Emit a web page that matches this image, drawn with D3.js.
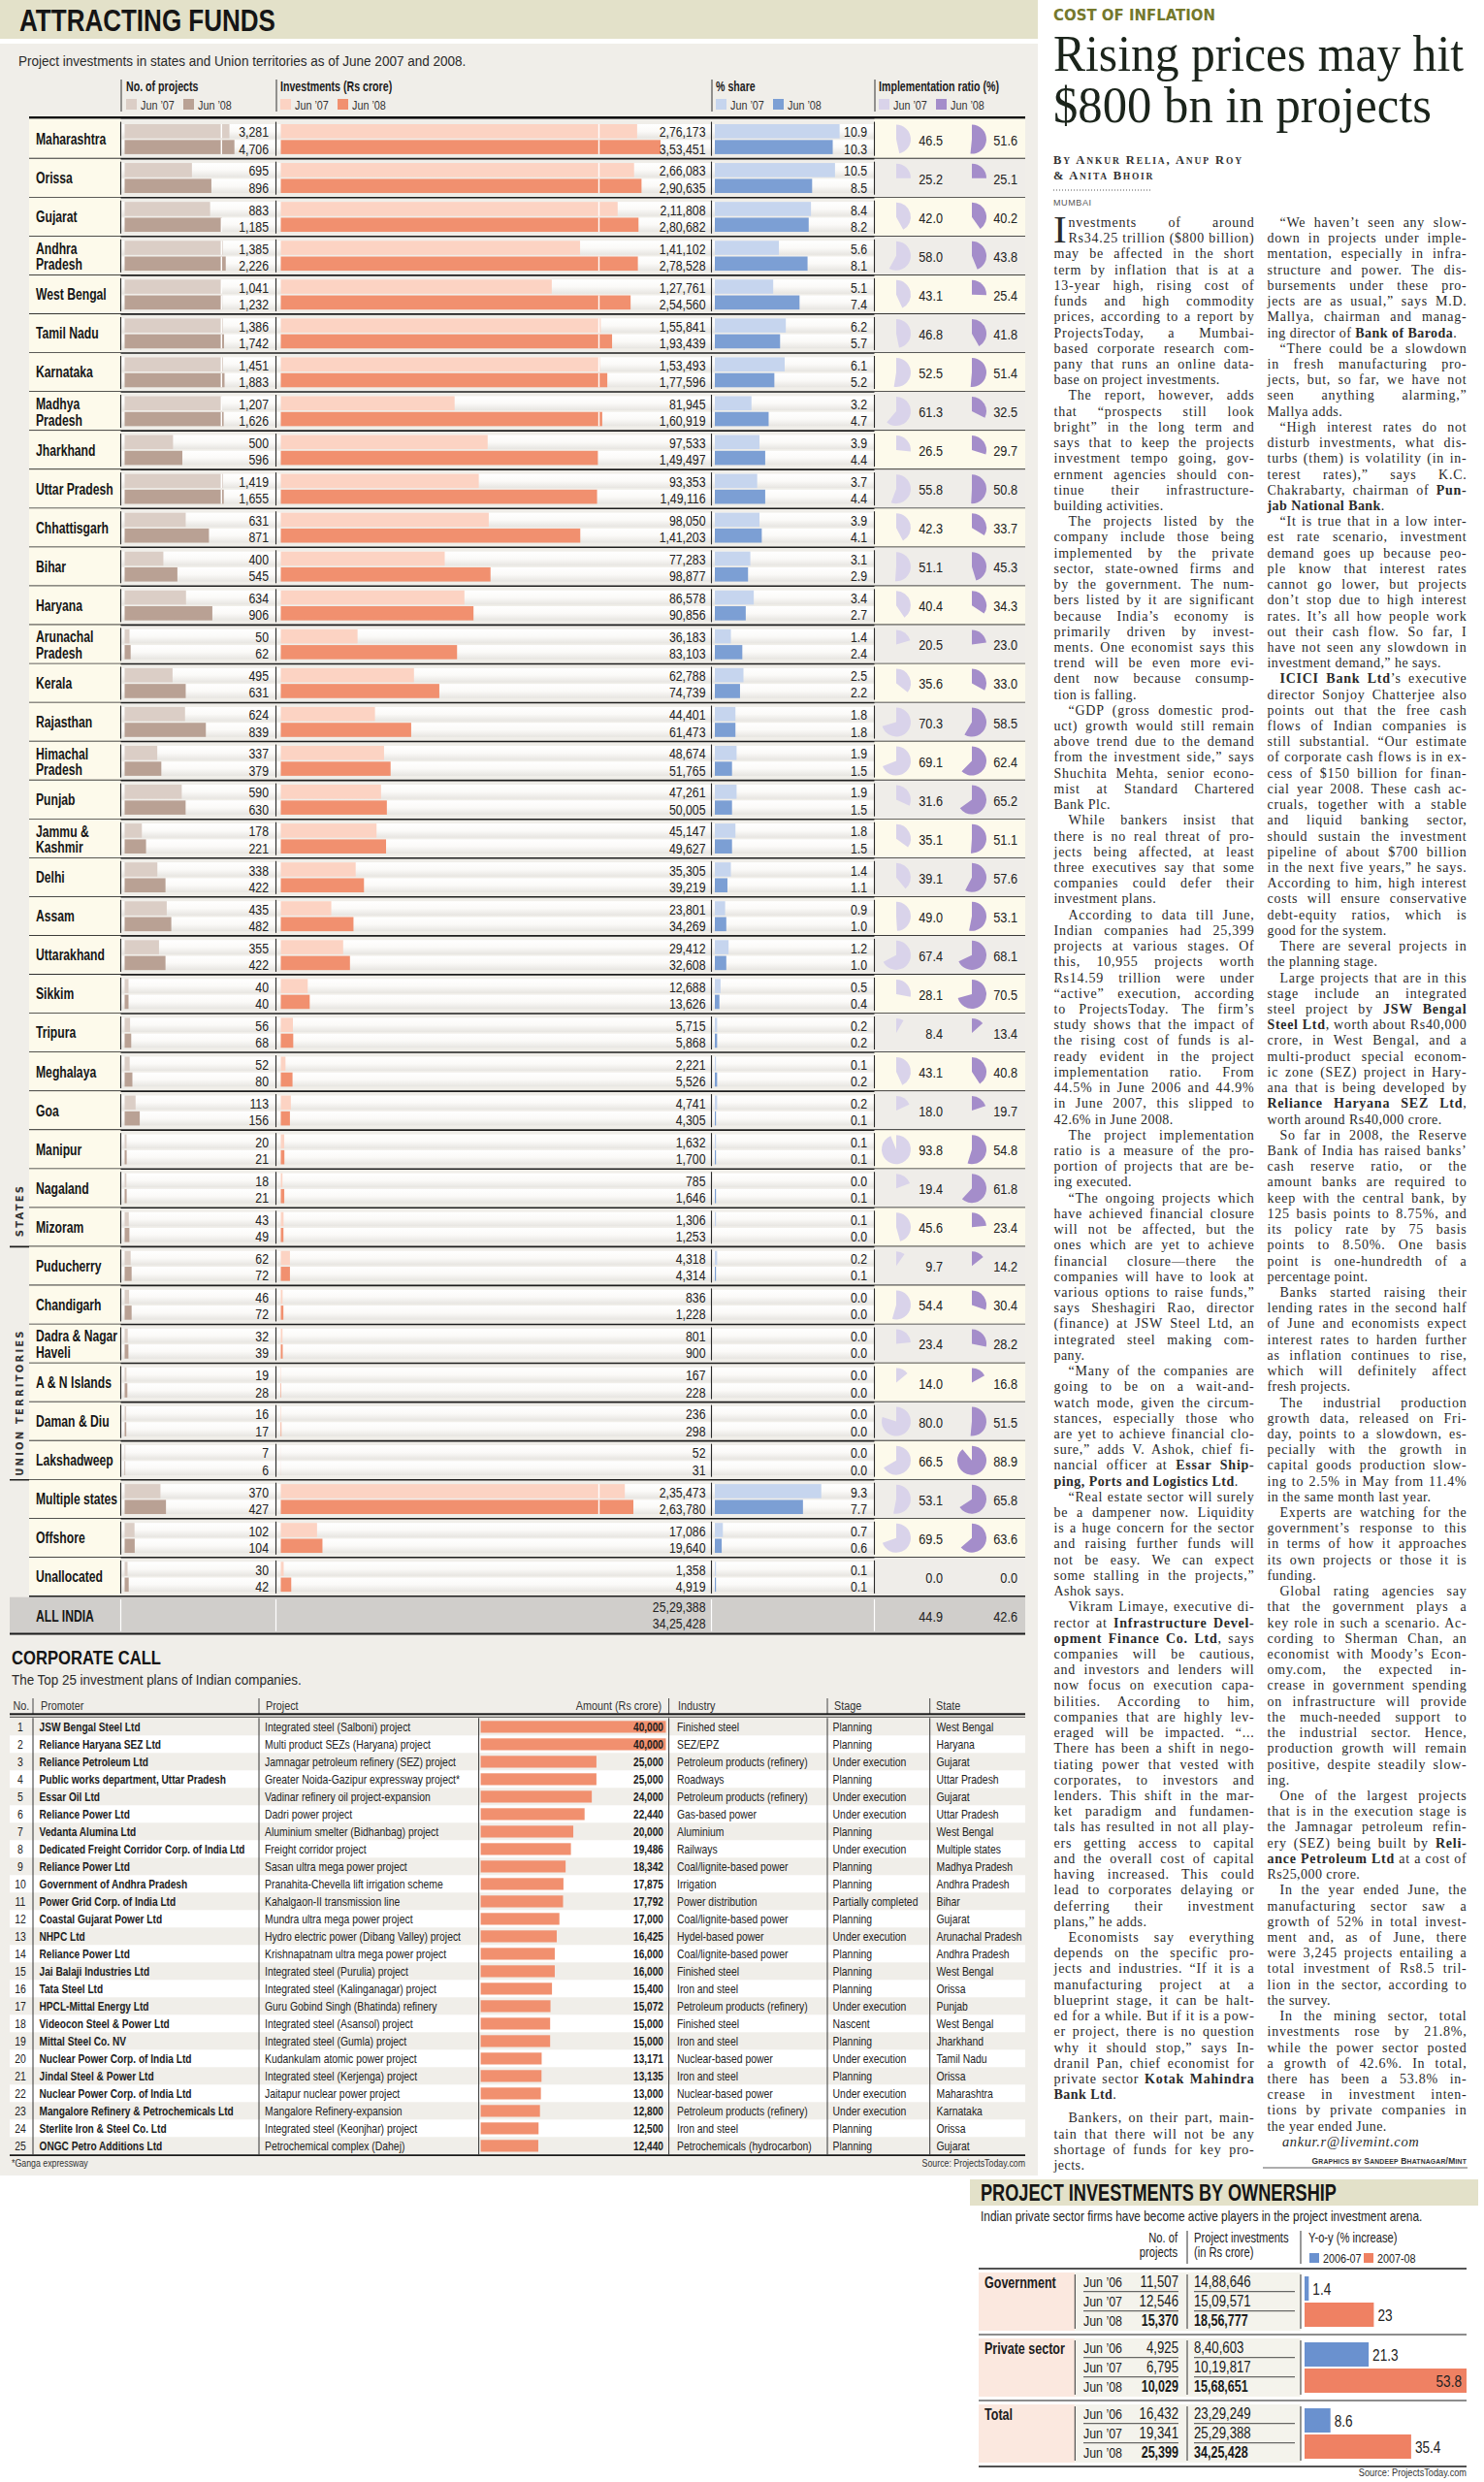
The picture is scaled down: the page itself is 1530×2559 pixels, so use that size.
<!DOCTYPE html>
<html><head><meta charset="utf-8">
<script src="https://cdn.jsdelivr.net/npm/d3@7"></script>
<style>html,body{margin:0;padding:0;background:#fff;}svg{display:block;}</style>
</head><body>
<svg id="c" width="1530" height="2559"></svg>
<script>
// ================= DATA =================
const regionNames = ["Maharashtra","Orissa","Gujarat","Andhra Pradesh","West Bengal","Tamil Nadu","Karnataka","Madhya Pradesh","Jharkhand","Uttar Pradesh","Chhattisgarh","Bihar","Haryana","Arunachal Pradesh","Kerala","Rajasthan","Himachal Pradesh","Punjab","Jammu & Kashmir","Delhi","Assam","Uttarakhand","Sikkim","Tripura","Meghalaya","Goa","Manipur","Nagaland","Mizoram","Puducherry","Chandigarh","Dadra & Nagar Haveli","A & N Islands","Daman & Diu","Lakshadweep","Multiple states","Offshore","Unallocated"];
const projectsJun07 = [3281,695,883,1385,1041,1386,1451,1207,500,1419,631,400,634,50,495,624,337,590,178,338,435,355,40,56,52,113,20,18,43,62,46,32,19,16,7,370,102,30];
const projectsJun08 = [4706,896,1185,2226,1232,1742,1883,1626,596,1655,871,545,906,62,631,839,379,630,221,422,482,422,40,68,80,156,21,21,49,72,72,39,28,17,6,427,104,42];
const investJun07 = [276173,266083,211808,141102,127761,155841,153493,81945,97533,93353,98050,77283,86578,36183,62788,44401,48674,47261,45147,35305,23801,29412,12688,5715,2221,4741,1632,785,1306,4318,836,801,167,236,52,235473,17086,1358];
const investJun08 = [353451,290635,280682,278528,254560,193439,177596,160919,149497,149116,141203,98877,90856,83103,74739,61473,51765,50005,49627,39219,34269,32608,13626,5868,5526,4305,1700,1646,1253,4314,1228,900,228,298,31,263780,19640,4919];
const shareJun07 = [10.9,10.5,8.4,5.6,5.1,6.2,6.1,3.2,3.9,3.7,3.9,3.1,3.4,1.4,2.5,1.8,1.9,1.9,1.8,1.4,0.9,1.2,0.5,0.2,0.1,0.2,0.1,0.0,0.1,0.2,0.0,0.0,0.0,0.0,0.0,9.3,0.7,0.1];
const shareJun08 = [10.3,8.5,8.2,8.1,7.4,5.7,5.2,4.7,4.4,4.4,4.1,2.9,2.7,2.4,2.2,1.8,1.5,1.5,1.5,1.1,1.0,1.0,0.4,0.2,0.2,0.1,0.1,0.1,0.0,0.1,0.0,0.0,0.0,0.0,0.0,7.7,0.6,0.1];
const implJun07 = [46.5,25.2,42.0,58.0,43.1,46.8,52.5,61.3,26.5,55.8,42.3,51.1,40.4,20.5,35.6,70.3,69.1,31.6,35.1,39.1,49.0,67.4,28.1,8.4,43.1,18.0,93.8,19.4,45.6,9.7,54.4,23.4,14.0,80.0,66.5,53.1,69.5,0.0];
const implJun08 = [51.6,25.1,40.2,43.8,25.4,41.8,51.4,32.5,29.7,50.8,33.7,45.3,34.3,23.0,33.0,58.5,62.4,65.2,51.1,57.6,53.1,68.1,70.5,13.4,40.8,19.7,54.8,61.8,23.4,14.2,30.4,28.2,16.8,51.5,88.9,65.8,63.6,0.0];
const allIndiaInvest = [2529388, 3425428];
const allIndiaImpl = [44.9, 42.6];
const seriesLabels = ["Jun \u201907","Jun \u201908"];

const corpPromoters = ["JSW Bengal Steel Ltd","Reliance Haryana SEZ Ltd","Reliance Petroleum Ltd","Public works department, Uttar Pradesh","Essar Oil Ltd","Reliance Power Ltd","Vedanta Alumina Ltd","Dedicated Freight Corridor Corp. of India Ltd","Reliance Power Ltd","Government of Andhra Pradesh","Power Grid Corp. of India Ltd","Coastal Gujarat Power Ltd","NHPC Ltd","Reliance Power Ltd","Jai Balaji Industries Ltd","Tata Steel Ltd","HPCL-Mittal Energy Ltd","Videocon Steel & Power Ltd","Mittal Steel Co. NV","Nuclear Power Corp. of India Ltd","Jindal Steel & Power Ltd","Nuclear Power Corp. of India Ltd","Mangalore Refinery & Petrochemicals Ltd","Sterlite Iron & Steel Co. Ltd","ONGC Petro Additions Ltd"];
const corpProjects = ["Integrated steel (Salboni) project","Multi product SEZs (Haryana) project","Jamnagar petroleum refinery (SEZ) project","Greater Noida-Gazipur expressway project*","Vadinar refinery oil project-expansion","Dadri power project","Aluminium smelter (Bidhanbag) project","Freight corridor project","Sasan ultra mega power project","Pranahita-Chevella lift irrigation scheme","Kahalgaon-II transmission line","Mundra ultra mega power project","Hydro electric power (Dibang Valley) project","Krishnapatnam ultra mega power project","Integrated steel (Purulia) project","Integrated steel (Kalinganagar) project","Guru Gobind Singh (Bhatinda) refinery","Integrated steel (Asansol) project","Integrated steel (Gumla) project","Kudankulam atomic power project","Integrated steel (Kerjenga) project","Jaitapur nuclear power project","Mangalore Refinery-expansion","Integrated steel (Keonjhar) project","Petrochemical complex (Dahej)"];
const corpAmounts = [40000,40000,25000,25000,24000,22440,20000,19486,18342,17875,17792,17000,16425,16000,16000,15400,15072,15000,15000,13171,13135,13000,12800,12500,12440];
const corpIndustries = ["Finished steel","SEZ/EPZ","Petroleum products (refinery)","Roadways","Petroleum products (refinery)","Gas-based power","Aluminium","Railways","Coal/lignite-based power","Irrigation","Power distribution","Coal/lignite-based power","Hydel-based power","Coal/lignite-based power","Finished steel","Iron and steel","Petroleum products (refinery)","Finished steel","Iron and steel","Nuclear-based power","Iron and steel","Nuclear-based power","Petroleum products (refinery)","Iron and steel","Petrochemicals (hydrocarbon)"];
const corpStages = ["Planning","Planning","Under execution","Planning","Under execution","Under execution","Planning","Under execution","Planning","Planning","Partially completed","Planning","Under execution","Planning","Planning","Planning","Under execution","Nascent","Planning","Under execution","Planning","Under execution","Under execution","Planning","Planning"];
const corpStates = ["West Bengal","Haryana","Gujarat","Uttar Pradesh","Gujarat","Uttar Pradesh","West Bengal","Multiple states","Madhya Pradesh","Andhra Pradesh","Bihar","Gujarat","Arunachal Pradesh","Andhra Pradesh","West Bengal","Orissa","Punjab","West Bengal","Jharkhand","Tamil Nadu","Orissa","Maharashtra","Karnataka","Orissa","Gujarat"];

const ownGroups = ["Government","Private sector","Total"];
const ownYears = ["Jun \u201906","Jun \u201907","Jun \u201908"];
const ownProjects = [[11507,12546,15370],[4925,6795,10029],[16432,19341,25399]];
const ownInvest = [[1488646,1509571,1856777],[840603,1019817,1568651],[2329249,2529388,3425428]];
const yoy0607 = [1.4,21.3,8.6];
const yoy0708 = [23,53.8,35.4];
const yoyLabels = ["2006-07","2007-08"];

// article text, one printed line per entry; "¶" = new paragraph, **bold**
const articleCol1 = ["nvestments of around","Rs34.25 trillion ($800 billion)","may be affected in the short","term by inflation that is at a","13-year high, rising cost of","funds and high commodity","prices, according to a report by","ProjectsToday, a Mumbai-","based corporate research com-","pany that runs an online data-","base on project investments.",
"¶The report, however, adds","that \u201cprospects still look","bright\u201d in the long term and","says that to keep the projects","investment tempo going, gov-","ernment agencies should con-","tinue their infrastructure-","building activities.",
"¶The projects listed by the","company include those being","implemented by the private","sector, state-owned firms and","by the government. The num-","bers listed by it are significant","because India\u2019s economy is","primarily driven by invest-","ments. One economist says this","trend will be even more evi-","dent now because consump-","tion is falling.",
"¶\u201cGDP (gross domestic prod-","uct) growth would still remain","above trend due to the demand","from the investment side,\u201d says","Shuchita Mehta, senior econo-","mist at Standard Chartered","Bank Plc.",
"¶While bankers insist that","there is no real threat of pro-","jects being affected, at least","three executives say that some","companies could defer their","investment plans.",
"¶According to data till June,","Indian companies had 25,399","projects at various stages. Of","this, 10,955 projects worth","Rs14.59 trillion were under","\u201cactive\u201d execution, according","to ProjectsToday. The firm\u2019s","study shows that the impact of","the rising cost of funds is al-","ready evident in the project","implementation ratio. From","44.5% in June 2006 and 44.9%","in June 2007, this slipped to","42.6% in June 2008.",
"¶The project implementation","ratio is a measure of the pro-","portion of projects that are be-","ing executed.",
"¶\u201cThe ongoing projects which","have achieved financial closure","will not be affected, but the","ones which are yet to achieve","financial closure\u2014there the","companies will have to look at","various options to raise funds,\u201d","says Sheshagiri Rao, director","(finance) at JSW Steel Ltd, an","integrated steel making com-","pany.",
"¶\u201cMany of the companies are","going to be on a wait-and-","watch mode, given the circum-","stances, especially those who","are yet to achieve financial clo-","sure,\u201d adds V. Ashok, chief fi-","nancial officer at **Essar Ship-**","**ping, Ports and Logistics Ltd**.",
"¶\u201cReal estate sector will surely","be a dampener now. Liquidity","is a huge concern for the sector","and raising further funds will","not be easy. We can expect","some stalling in the projects,\u201d","Ashok says.",
"¶Vikram Limaye, executive di-","rector at **Infrastructure Devel-**","**opment Finance Co. Ltd**, says","companies will be cautious,","and investors and lenders will","now focus on execution capa-","bilities. According to him,","companies that are highly lev-","eraged will be impacted. \u201c...","There has been a shift in nego-","tiating power that vested with","corporates, to investors and","lenders. This shift in the mar-","ket paradigm and fundamen-","tals has resulted in not all play-","ers getting access to capital","and the overall cost of capital","having increased. This could","lead to corporates delaying or","deferring their investment","plans,\u201d he adds.",
"¶Economists say everything","depends on the specific pro-","jects and industries. \u201cIf it is a","manufacturing project at a","blueprint stage, it can be halt-","ed for a while. But if it is a pow-","er project, there is no question","why it should stop,\u201d says In-","dranil Pan, chief economist for","private sector **Kotak Mahindra**","**Bank Ltd**.",
"¶Bankers, on their part, main-","tain that there will not be any","shortage of funds for key pro-","jects."];
const articleCol2 = ["¶\u201cWe haven\u2019t seen any slow-","down in projects under imple-","mentation, especially in infra-","structure and power. The dis-","bursements under these pro-","jects are as usual,\u201d says M.D.","Mallya, chairman and manag-","ing director of **Bank of Baroda**.",
"¶\u201cThere could be a slowdown","in fresh manufacturing pro-","jects, but, so far, we have not","seen anything alarming,\u201d","Mallya adds.",
"¶\u201cHigh interest rates do not","disturb investments, what dis-","turbs (them) is volatility (in in-","terest rates),\u201d says K.C.","Chakrabarty, chairman of **Pun-**","**jab National Bank**.",
"¶\u201cIt is true that in a low inter-","est rate scenario, investment","demand goes up because peo-","ple know that interest rates","cannot go lower, but projects","don\u2019t stop due to high interest","rates. It\u2019s all how people work","out their cash flow. So far, I","have not seen any slowdown in","investment demand,\u201d he says.",
"¶**ICICI Bank Ltd**\u2019s executive","director Sonjoy Chatterjee also","points out that the free cash","flows of Indian companies is","still substantial. \u201cOur estimate","of corporate cash flows is in ex-","cess of $150 billion for finan-","cial year 2008. These cash ac-","cruals, together with a stable","and liquid banking sector,","should sustain the investment","pipeline of about $700 billion","in the next five years,\u201d he says.","According to him, high interest","costs will ensure conservative","debt-equity ratios, which is","good for the system.",
"¶There are several projects in","the planning stage.",
"¶Large projects that are in this","stage include an integrated","steel project by **JSW Bengal**","**Steel Ltd**, worth about Rs40,000","crore, in West Bengal, and a","multi-product special econom-","ic zone (SEZ) project in Hary-","ana that is being developed by","**Reliance Haryana SEZ Ltd**,","worth around Rs40,000 crore.",
"¶So far in 2008, the Reserve","Bank of India has raised banks\u2019","cash reserve ratio, or the","amount banks are required to","keep with the central bank, by","125 basis points to 8.75%, and","its policy rate by 75 basis","points to 8.50%. One basis","point is one-hundredth of a","percentage point.",
"¶Banks started raising their","lending rates in the second half","of June and economists expect","interest rates to harden further","as inflation continues to rise,","which will definitely affect","fresh projects.",
"¶The industrial production","growth data, released on Fri-","day, points to a slowdown, es-","pecially with the growth in","capital goods production slow-","ing to 2.5% in May from 11.4%","in the same month last year.",
"¶Experts are watching for the","government\u2019s response to this","in terms of how it approaches","its own projects or those it is","funding.",
"¶Global rating agencies say","that the government plays a","key role in such a scenario. Ac-","cording to Sherman Chan, an","economist with Moody\u2019s Econ-","omy.com, the expected in-","crease in government spending","on infrastructure will provide","the much-needed support to","the industrial sector. Hence,","production growth will remain","positive, despite steadily slow-","ing.",
"¶One of the largest projects","that is in the execution stage is","the Jamnagar petroleum refin-","ery (SEZ) being built by **Reli-**","**ance Petroleum Ltd** at a cost of","Rs25,000 crore.",
"¶In the year ended June, the","manufacturing sector saw a","growth of 52% in total invest-","ment and, as of June, there","were 3,245 projects entailing a","total investment of Rs8.5 tril-","lion in the sector, according to","the survey.",
"¶In the mining sector, total","investments rose by 21.8%,","while the power sector posted","a growth of 42.6%. In total,","there has been a 53.8% in-","crease in investment inten-","tions by private companies in","the year ended June."];

// ================= HELPERS =================
const NARROW = "NARROW";
const NARROW_FF = "'Liberation Sans',Arial,sans-serif";
const SERIF = "'Liberation Serif','Times New Roman',serif";
const SANS = "'DejaVu Sans','Liberation Sans',sans-serif";
const projC = ["#dbcec6","#b9a194"], invC = ["#fcd3c3","#f1906f"], shareC = ["#c6d5ee","#7c9fd4"], implC = ["#d9d3ea","#a48dca"];
const svg = d3.select("#c");
function inr(n){ const s=String(Math.round(n)); if(s.length<=3) return s; const l3=s.slice(-3); const r=s.slice(0,-3).replace(/\B(?=(\d{2})+(?!\d))/g,","); return r+","+l3; }
const f1 = d3.format(".1f");
const fK = d3.format(",");
// text helper; "narrow" text = Liberation Sans condensed by a horizontal scale transform
function txt(g,x,y,s,o={}){
  const narrow = !o.ff || o.ff===NARROW;
  const fs = o.fs||15;
  const t=g.append("text").text(s)
    .attr("font-family",narrow?NARROW_FF:o.ff).attr("font-size",fs).attr("fill",o.fill||"#1c1c1c");
  if(o.fw) t.attr("font-weight",o.fw);
  if(o.fst) t.attr("font-style",o.fst);
  if(o.anchor) t.attr("text-anchor",o.anchor);
  if(o.ls!=null) t.style("letter-spacing",o.ls+"px");
  if(narrow){
    const w0=t.node().getComputedTextLength();
    let k = o.cf||0.8;
    if(o.max && w0*k>o.max) k = o.max/w0;
    if(o.fit) k = o.fit/w0;
    t.attr("x",0).attr("y",0).attr("transform",`translate(${x},${y}) scale(${k},1)`);
  } else {
    t.attr("x",x).attr("y",y);
    if(o.fit) t.attr("textLength",o.fit).attr("lengthAdjust","spacingAndGlyphs");
  }
  return t;
}
function hline(g,x1,x2,y,w,c){ g.append("line").attr("x1",x1).attr("x2",x2).attr("y1",y).attr("y2",y).attr("stroke",c||"#1e1e1e").attr("stroke-width",w||1); }
function vline(g,x,y1,y2,w,c){ g.append("line").attr("x1",x).attr("x2",x).attr("y1",y1).attr("y2",y2).attr("stroke",c||"#1e1e1e").attr("stroke-width",w||1); }

const defs = svg.append("defs");
const gr = defs.append("linearGradient").attr("id","trk").attr("x1",0).attr("y1",0).attr("x2",0).attr("y2",1);
gr.append("stop").attr("offset","0").attr("stop-color","#ffffff");
gr.append("stop").attr("offset","0.5").attr("stop-color","#fbfaf8");
gr.append("stop").attr("offset","1").attr("stop-color","#e7e5e1");

// ================= BACKGROUNDS =================
svg.append("rect").attr("width",1530).attr("height",2559).attr("fill","#ffffff");
svg.append("rect").attr("x",0).attr("y",0).attr("width",1070).attr("height",40).attr("fill","#e3e1c9");
svg.append("rect").attr("x",0).attr("y",45).attr("width",1070).attr("height",2198).attr("fill","#f0eee9");

// ================= ATTRACTING FUNDS TABLE =================
const G = svg.append("g");
txt(G,20,32,"ATTRACTING FUNDS",{fs:31,fw:"bold",fill:"#151515",fit:264});
txt(G,19,68,"Project investments in states and Union territories as of June 2007 and 2008.",{fs:15,fill:"#2a2a2a",fit:462});
const seps = [124.5,284.5,733.5,901.5];
const heads = [{x:130,t:"No. of projects",c:projC},{x:289,t:"Investments (Rs crore)",c:invC},{x:738,t:"% share",c:shareC},{x:906,t:"Implementation ratio (%)",c:implC}];
heads.forEach((h,k)=>{
  txt(G,h.x,94,h.t,{fs:14,fw:"bold",cf:0.76});
  vline(G,seps[k]+0.5,82,115,1,"#333");
  [0,1].forEach(j=>{
    const sx=h.x+j*59;
    G.append("rect").attr("x",sx).attr("y",102).attr("width",11).attr("height",11).attr("fill",h.c[j]);
    txt(G,sx+15,113,seriesLabels[j],{fs:13.5,fill:"#333"});
  });
});

const top0 = 123.6, rowH = 40.06;
const xProj = d3.scaleLinear().domain([0,1000,4706]).range([128.5,228.3,241.7]);
const xInv = d3.scaleLinear().domain([0,150000,353451]).range([289.5,617.5,681]);
const xShare = d3.scaleLinear().domain([0,10]).range([737,855]);
const arc = d3.arc().innerRadius(0).outerRadius(15).startAngle(0);
const wrapNames = new Set(["Andhra Pradesh","Madhya Pradesh","Arunachal Pradesh","Himachal Pradesh","Jammu & Kashmir","Dadra & Nagar Haveli"]);
const barY = [4.4, 20.7], barH = 14.6, numY = [17.8, 35];
const nameOpt = {fs:16,fw:"bold",cf:0.76,max:84,fill:"#161616"};
const numOpt = {fs:15,anchor:"end",fill:"#222",cf:0.82};

G.append("rect").attr("x",30).attr("y",120).attr("width",1027).attr("height",2.6).attr("fill","#111");
regionNames.forEach((name,i)=>{
  const y = top0 + i*rowH;
  const yTop = i===0 ? 122.6 : y;
  const yBot = y + rowH;
  const g = G.append("g");
  g.append("rect").attr("x",30).attr("y",yTop).attr("width",seps[0]-30).attr("height",yBot-yTop).attr("fill","#fdfaeb");
  g.append("rect").attr("x",seps[3]).attr("y",yTop).attr("width",1057-seps[3]).attr("height",yBot-yTop).attr("fill", i%2===0 ? "#fdfaeb" : "#efede9");
  [[seps[0]+1,seps[1]],[seps[1]+1,seps[2]],[seps[2]+1,seps[3]]].forEach(([a,b])=>barY.forEach(dy=>
    g.append("rect").attr("x",a).attr("y",y+dy).attr("width",b-a).attr("height",barH).attr("fill","url(#trk)")));
  if (wrapNames.has(name)) {
    const k = name.lastIndexOf(" ");
    txt(g,37,y+18,name.slice(0,k),nameOpt);
    txt(g,37,y+34.5,name.slice(k+1),nameOpt);
  } else txt(g,37,y+25.5,name,nameOpt);
  [projectsJun07[i],projectsJun08[i]].forEach((v,j)=>{
    g.append("rect").attr("x",xProj(0)).attr("y",y+barY[j]).attr("width",Math.max(0,xProj(v)-xProj(0))).attr("height",barH).attr("fill",projC[j]);
    if (v>1000) vline(g,xProj(1000),y+barY[j],y+barY[j]+barH,1.4,"#ffffff");
    txt(g,277,y+numY[j],inr(v),numOpt);
  });
  [investJun07[i],investJun08[i]].forEach((v,j)=>{
    g.append("rect").attr("x",xInv(0)).attr("y",y+barY[j]).attr("width",Math.max(0,xInv(v)-xInv(0))).attr("height",barH).attr("fill",invC[j]);
    if (v>150000) vline(g,xInv(150000),y+barY[j],y+barY[j]+barH,1.4,"#ffffff");
    txt(g,727.5,y+numY[j],inr(v),numOpt);
  });
  [shareJun07[i],shareJun08[i]].forEach((v,j)=>{
    g.append("rect").attr("x",xShare(0)).attr("y",y+barY[j]).attr("width",Math.max(0,xShare(v)-xShare(0))).attr("height",barH).attr("fill",shareC[j]);
    txt(g,894,y+numY[j],f1(v),numOpt);
  });
  [implJun07[i],implJun08[i]].forEach((v,j)=>{
    const cx = j===0 ? 924 : 1002;
    if (v>0) g.append("path").attr("transform",`translate(${cx},${y+20})`).attr("d",arc({endAngle:v/100*2*Math.PI})).attr("fill",implC[j]);
    txt(g,j===0?972:1049,y+26,f1(v),Object.assign({},numOpt,{fs:15.5}));
  });
  seps.forEach(sx=>vline(g,sx,yTop+3,yBot-3,1.1,"#2a2a2a"));
  const xl = (i===28||i===34) ? 10 : 30;
  hline(g,xl,1057,yBot,1.6,"#1e1e1e");
});
// ALL INDIA
{
  const y = top0 + regionNames.length*rowH;
  G.append("rect").attr("x",10).attr("y",y+0.8).attr("width",1047).attr("height",37.5).attr("fill","#d0cecb");
  txt(G,37,y+26,"ALL INDIA",nameOpt);
  allIndiaInvest.forEach((v,j)=>txt(G,727.5,y+16+j*17,inr(v),numOpt));
  allIndiaImpl.forEach((v,j)=>txt(G,j===0?972:1049,y+26,f1(v),Object.assign({},numOpt,{fs:15.5})));
  seps.forEach(sx=>vline(G,sx,y+3,y+36,1.2,"#ffffff"));
  hline(G,10,1057,y+38.5,2,"#1a1a1a");
}
txt(G,0,0,"STATES",{ff:SANS,fs:10,fw:"bold",ls:2.2,fill:"#333",anchor:"middle"}).attr("transform","translate(24,1248) rotate(-90)");
txt(G,0,0,"UNION TERRITORIES",{ff:SANS,fs:10,fw:"bold",ls:2.2,fill:"#333",anchor:"middle"}).attr("transform","translate(24,1446) rotate(-90)");

// ================= CORPORATE CALL =================
const C = svg.append("g");
txt(C,12,1716,"CORPORATE CALL",{fs:21,fw:"bold",fill:"#151515",fit:154});
txt(C,12,1737,"The Top 25 investment plans of Indian companies.",{fs:15,fill:"#2a2a2a",fit:299});
const cVl = [34,267,689.6,853,958.7];
const hOpt = {fs:13.5,fill:"#333"};
txt(C,13.5,1763,"No.",hOpt);
txt(C,42,1763,"Promoter",hOpt);
txt(C,274,1763,"Project",hOpt);
txt(C,682,1763,"Amount (Rs crore)",Object.assign({anchor:"end"},hOpt));
txt(C,699,1763,"Industry",hOpt);
txt(C,860,1763,"Stage",hOpt);
txt(C,965,1763,"State",hOpt);
cVl.forEach(x=>vline(C,x,1751,1767,1,"#444"));
C.append("rect").attr("x",10).attr("y",1766.3).attr("width",1047).attr("height",2).attr("fill","#1a1a1a");
hline(C,10,1057,1770.3,0.8,"#1a1a1a");
const cTop = 1771.3, cH = 18;
const xAmt = d3.scaleLinear().domain([0,40000]).range([495.6,686.5]);
corpPromoters.forEach((p,i)=>{
  const y = cTop + i*cH, by = y+13.5;
  if (i%2===1) C.append("rect").attr("x",10).attr("y",y).attr("width",1047).attr("height",cH).attr("fill","#ffffff");
  C.append("rect").attr("x",xAmt(0)).attr("y",y+3).attr("width",xAmt(corpAmounts[i])-xAmt(0)).attr("height",12.2).attr("fill",invC[1]);
  txt(C,21,by,String(i+1),{fs:13,anchor:"middle",fill:"#222"});
  txt(C,40.5,by,p,{fs:13,fw:"bold",cf:0.78,max:212});
  txt(C,273,by,corpProjects[i],{fs:13,fill:"#222",max:208});
  txt(C,684,by,fK(corpAmounts[i]),{fs:13,fw:"bold",anchor:"end",cf:0.78});
  txt(C,698,by,corpIndustries[i],{fs:13,fill:"#222",max:142});
  txt(C,858.6,by,corpStages[i],{fs:13,fill:"#222",max:90});
  txt(C,965.5,by,corpStates[i],{fs:13,fill:"#222",max:88});
});
const cBot = cTop + corpPromoters.length*cH;
[34,267,493.6,689.6,853,958.7].forEach(x=>vline(C,x,cTop,cBot,1,"#333"));
hline(C,10,1057,cBot+0.8,1.6,"#1a1a1a");
txt(C,12,2234,"*Ganga expressway",{fs:11,fill:"#333"});
txt(C,1057,2234,"Source: ProjectsToday.com",{fs:11,fill:"#333",anchor:"end"});

// ================= ARTICLE =================
const A = svg.append("g");
txt(A,1086,21,"COST OF INFLATION",{ff:SANS,fs:15,fw:"bold",fill:"#74782c",fit:167});
txt(A,1086,73,"Rising prices may hit",{ff:SERIF,fs:52,fill:"#1b241b",fit:423});
txt(A,1086,126,"$800 bn in projects",{ff:SERIF,fs:52,fill:"#1b241b",fit:390});
function smallCaps(g,x,y,s,big,small,W,o={}){
  const t=g.append("text").attr("x",x).attr("y",y).attr("font-family",o.ff||SERIF).attr("font-weight","bold").attr("fill",o.fill||"#333");
  if(o.anchor) t.attr("text-anchor",o.anchor);
  const re=/([a-z]+)|([^a-z]+)/g; let m;
  while((m=re.exec(s))){ if(m[1]) t.append("tspan").attr("font-size",small).text(m[1].toUpperCase()); else t.append("tspan").attr("font-size",big).text(m[2]); }
  if(W>0){ const w=t.node().getComputedTextLength(); t.style("letter-spacing",((W-w)/s.length)+"px"); }
  return t;
}
smallCaps(A,1086,169,"By Ankur Relia, Anup Roy",12.5,9.5,196);
smallCaps(A,1086,185,"& Anita Bhoir",12.5,9.5,104);
A.append("line").attr("x1",1086).attr("x2",1187).attr("y1",196).attr("y2",196).attr("stroke","#555").attr("stroke-width",1).attr("stroke-dasharray","1,2");
txt(A,1086,212,"MUMBAI",{ff:"'Liberation Sans',sans-serif",fs:9,fill:"#555",ls:0.6});

const LH = 16.22, L0 = 234;
function setLine(g,x,y,W,line,justify){
  const t=g.append("text").attr("x",x).attr("y",y).attr("font-family",SERIF).attr("font-size",14).attr("fill","#2a2a2a");
  line.split("**").forEach((p,k)=>{ if(!p) return; const ts=t.append("tspan").text(p); if(k%2===1) ts.attr("font-weight","bold"); });
  const plain=line.replace(/\*\*/g,""); const n=plain.length; const spaces=(plain.match(/ /g)||[]).length;
  const w=t.node().getComputedTextLength();
  let extra=W-w;
  if(!justify){ t.style("letter-spacing",(extra<0? extra/n : Math.min(0.45,extra/n))+"px"); return t; }
  if(extra<0){ t.style("letter-spacing",(extra/n)+"px"); return t; }
  let ls=Math.min(extra/n,0.75);
  if(spaces===0) ls=extra/n;
  const rem=extra-ls*n;
  t.style("letter-spacing",ls+"px");
  if(spaces>0) t.style("word-spacing",(rem/spaces)+"px");
  return t;
}
function setColumn(lines,x,W,indent,dropCap){
  let gap=0;
  lines.forEach((ln,i)=>{
    const para = ln.startsWith("\u00b6");
    const s = para ? ln.slice(1) : ln;
    const next = lines[i+1];
    const last = next===undefined || next.startsWith("\u00b6");
    if(para && s.startsWith("Bankers, on their")) gap=8;
    let ix = para ? indent : 0;
    if(dropCap && i<2) ix = 15;
    setLine(A,x+ix,L0+i*LH+gap,W-ix,s,!last);
  });
}
txt(A,1086,L0+LH,"I",{ff:SERIF,fs:41,fill:"#2a2a2a"});
setColumn(articleCol1,1086.5,207,15,true);
setColumn(articleCol2,1306.5,206,13,false);
txt(A,1322,L0+articleCol2.length*LH,"ankur.r@livemint.com",{ff:SERIF,fs:14.5,fst:"italic",fill:"#2a2a2a",ls:0.6});
smallCaps(A,1512,2231,"Graphics by Sandeep Bhatnagar/Mint",8.5,6.8,0,{ff:"'Liberation Sans',sans-serif",fill:"#333",anchor:"end"}).style("letter-spacing","0.2px");
hline(A,1302,1513,2235,0.8,"#333");

// ================= OWNERSHIP =================
const O = svg.append("g");
O.append("rect").attr("x",1000).attr("y",2247).attr("width",524).attr("height",27).attr("fill","#e3e1c9");
txt(O,1011,2269,"PROJECT INVESTMENTS BY OWNERSHIP",{fs:23,fw:"bold",fill:"#151515",fit:367});
txt(O,1011,2290,"Indian private sector firms have become active players in the project investment arena.",{fs:14,fill:"#222",fit:456});
const ohOpt = {fs:14,fill:"#222"};
txt(O,1214,2312,"No. of",Object.assign({anchor:"end"},ohOpt));
txt(O,1214,2327,"projects",Object.assign({anchor:"end"},ohOpt));
txt(O,1231,2312,"Project investments",ohOpt);
txt(O,1231,2327,"(in Rs crore)",ohOpt);
txt(O,1349,2312,"Y-o-y (% increase)",ohOpt);
const ownC = ["#6a91cf","#ef8163"];
yoyLabels.forEach((l,j)=>{
  O.append("rect").attr("x",1350+j*56).attr("y",2323).attr("width",10).attr("height",10).attr("fill",ownC[j]);
  txt(O,1364+j*56,2332.5,l,{fs:13.5,fill:"#222"});
});
vline(O,1224,2300,2334,1,"#333"); vline(O,1341,2300,2334,1,"#333");
hline(O,1009,1512,2339,1.6,"#1a1a1a");
const xYoy = d3.scaleLinear().domain([0,53.8]).range([1345,1512]);
ownGroups.forEach((gname,i)=>{
  const y = 2343 + i*68;
  O.append("rect").attr("x",1009).attr("y",y).attr("width",99).attr("height",60).attr("fill","#fbe8df");
  O.append("rect").attr("x",1108).attr("y",y).attr("width",233).attr("height",60).attr("fill","#f4f3ec");
  txt(O,1015,y+16,gname,{fs:16.5,fw:"bold",cf:0.76,max:90});
  ownYears.forEach((yr,k)=>{
    const b = k===2;
    txt(O,1117,y+15+k*20,yr,{fs:15.5,fill:"#222"});
    txt(O,1215,y+15+k*20,fK(ownProjects[i][k]),{fs:16.5,anchor:"end",fw:b?"bold":null,fill:"#1a1a1a",cf:b?0.76:0.8});
    txt(O,1231,y+15+k*20,inr(ownInvest[i][k]),{fs:16.5,fw:b?"bold":null,fill:"#1a1a1a",cf:b?0.76:0.8});
    if(k<2){ hline(O,1117,1215,y+19.7+k*20,0.9,"#333"); hline(O,1231,1335,y+19.7+k*20,0.9,"#333"); }
  });
  [1108.3,1224,1341].forEach(x=>vline(O,x,y+2,y+58,1,"#333"));
  [yoy0607[i],yoy0708[i]].forEach((v,j)=>{
    const by = y+4+j*27;
    O.append("rect").attr("x",xYoy(0)).attr("y",by).attr("width",xYoy(v)-xYoy(0)).attr("height",25).attr("fill",ownC[j]);
    const inside = xYoy(v) > 1480;
    txt(O,inside? xYoy(v)-5 : xYoy(v)+4, by+19, String(v), {fs:17,anchor:inside?"end":null,fill:"#222"});
  });
  hline(O,1009,1512,y+64,i===2?1.6:1,"#1a1a1a");
});
txt(O,1512,2553,"Source: ProjectsToday.com",{fs:11.5,anchor:"end",fill:"#333"});
</script>
</body></html>
